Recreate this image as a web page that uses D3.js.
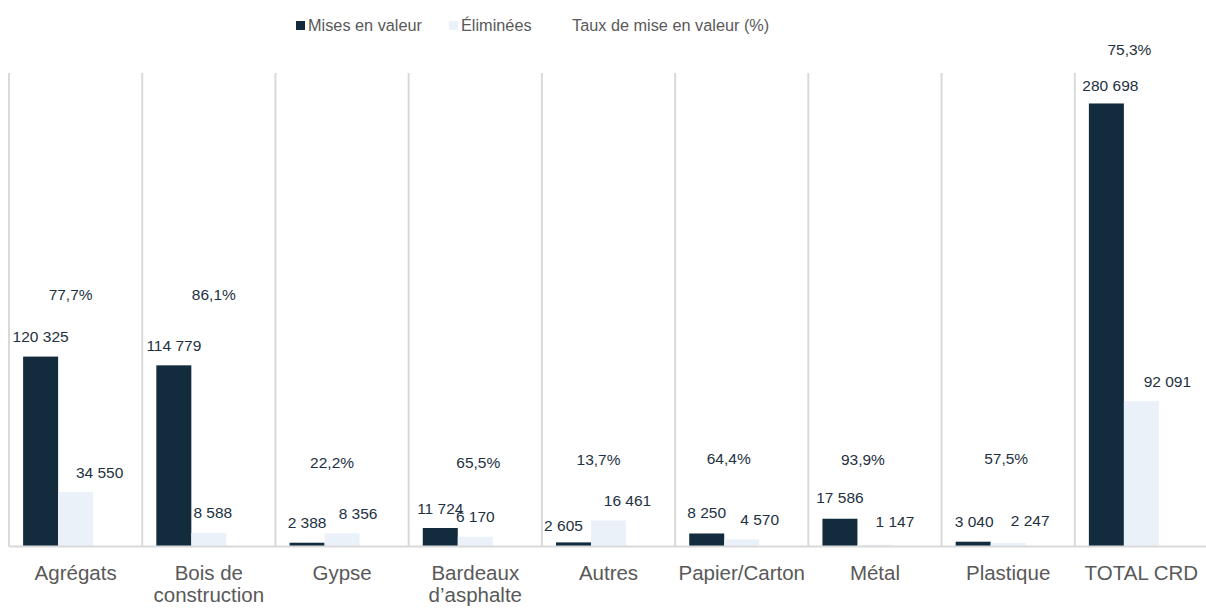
<!DOCTYPE html>
<html>
<head>
<meta charset="utf-8">
<script src="https://cdn.jsdelivr.net/npm/d3@7"></script>
<style>
  html, body { margin: 0; padding: 0; background: #fff; }
  svg { display: block; font-family: "Liberation Sans", Arial, sans-serif; }
</style>
</head>
<body>
<svg id="chart" width="1206" height="608"></svg>
<script>
// ---------- DATA ----------
const categories = ["Agrégats", "Bois de\nconstruction", "Gypse", "Bardeaux\nd\u2019asphalte", "Autres", "Papier/Carton", "Métal", "Plastique", "TOTAL CRD"];
const misesEnValeur = [120325, 114779, 2388, 11724, 2605, 8250, 17586, 3040, 280698];
const eliminees    = [34550, 8588, 8356, 6170, 16461, 4570, 1147, 2247, 92091];
const tauxMiseEnValeur = [77.7, 86.1, 22.2, 65.5, 13.7, 64.4, 93.9, 57.5, 75.3];
const seriesNames = ["Mises en valeur", "Éliminées", "Taux de mise en valeur (%)"];
const yMax = 300000;

// ---------- LAYOUT (label placement as in the original) ----------
const layout = {
  rateLevel: [160000, 160000, 53000, 53000, 55000, 55500, 55000, 55500, 315000],
  rateDx:    [-5, 5, -10, 3, -10, -13, -12, -2, -12],
  darkDx:    [0, 0, 0, 0, -10, 0, 0, 1, 4],
  darkDy:    [20, 20, 20, 20, 17, 21, 21, 20, 18],
  lightDx:   [24, 4, 16, 0, 19, 18, 20, 22, 26],
  lightDy:   [20, 21, 20, 20, 20, 20, 23, 23, 20]
};

const colors = { dark: "#122B3D", light: "#EAF1F8", grid: "#D9D9D9", label: "#1E3142", axis: "#595959" };
const fmt = v => d3.format(",")(v).replace(/,/g, " ");
const fmtPct = v => d3.format(".1f")(v).replace(".", ",") + "%";

const svg = d3.select("#chart");
const plot = { left: 9, right: 1208, top: 73, bottom: 546.5 };

const x = d3.scaleBand().domain(categories).range([plot.left, plot.right]).paddingInner(0).paddingOuter(0);
const bw = x.bandwidth();
const xs = d3.scaleBand().domain(["mv", "el", "tx"]).range([0, bw]).paddingInner(0).paddingOuter((bw / 35 - 3) / 2);
const y = d3.scaleLinear().domain([0, yMax]).range([plot.bottom, plot.top]);

// vertical separators
svg.append("g").selectAll("line")
  .data(categories)
  .join("line")
  .attr("x1", d => x(d)).attr("x2", d => x(d))
  .attr("y1", plot.top).attr("y2", plot.bottom)
  .attr("stroke", colors.grid).attr("stroke-width", 2);

const rows = categories.map((c, i) => ({ c, i, mv: misesEnValeur[i], el: eliminees[i], tx: tauxMiseEnValeur[i] }));

// bars
const g = svg.append("g");
g.selectAll("rect.mv").data(rows).join("rect").attr("class", "mv")
  .attr("x", d => x(d.c) + xs("mv")).attr("width", xs.bandwidth())
  .attr("y", d => y(d.mv)).attr("height", d => y(0) - y(d.mv))
  .attr("fill", colors.dark);
g.selectAll("rect.el").data(rows).join("rect").attr("class", "el")
  .attr("x", d => x(d.c) + xs("el")).attr("width", xs.bandwidth())
  .attr("y", d => y(d.el)).attr("height", d => y(0) - y(d.el))
  .attr("fill", colors.light);

// x axis
const axis = svg.append("g").attr("transform", `translate(0,${plot.bottom})`)
  .call(d3.axisBottom(x).tickSize(0).tickPadding(0));
axis.select(".domain").attr("stroke", colors.grid).attr("stroke-width", 2).attr("d", `M${plot.left},0H1206`);
axis.selectAll(".tick text").each(function (d) {
  const t = d3.select(this);
  t.text(null).attr("y", 0).attr("dy", null)
    .attr("fill", colors.axis).style("font-size", "20.5px")
    .attr("font-family", "Liberation Sans, Arial, sans-serif");
  d.split("\n").forEach((line, k) => {
    t.append("tspan").attr("x", 0).attr("y", 33.5 + k * 21.5).text(line);
  });
});

// value labels
const lab = svg.append("g").attr("fill", colors.label).style("font-size", "15.5px").attr("text-anchor", "middle");
lab.selectAll("text.mv").data(rows).join("text").attr("class", "mv")
  .attr("x", d => x(d.c) + xs("mv") + xs.bandwidth() / 2 + layout.darkDx[d.i])
  .attr("y", d => y(d.mv) - layout.darkDy[d.i]).attr("dy", "0.36em")
  .text(d => fmt(d.mv));
lab.selectAll("text.el").data(rows).join("text").attr("class", "el")
  .attr("x", d => x(d.c) + xs("el") + xs.bandwidth() / 2 + layout.lightDx[d.i])
  .attr("y", d => y(d.el) - layout.lightDy[d.i]).attr("dy", "0.36em")
  .text(d => fmt(d.el));
lab.selectAll("text.tx").data(rows).join("text").attr("class", "tx")
  .attr("x", d => x(d.c) + bw / 2 + layout.rateDx[d.i])
  .attr("y", d => y(layout.rateLevel[d.i])).attr("dy", "0.36em")
  .text(d => fmtPct(d.tx));

// legend
const legend = svg.append("g").style("font-size", "16.3px").attr("fill", colors.axis);
const legendItems = [
  { name: seriesNames[0], color: colors.dark, sx: 296, tx: 308 },
  { name: seriesNames[1], color: colors.light, sx: 449, tx: 461 },
  { name: seriesNames[2], color: "none", sx: 560, tx: 572 }
];
legendItems.forEach(it => {
  legend.append("rect").attr("x", it.sx).attr("y", 21).attr("width", 9).attr("height", 9).attr("fill", it.color);
  legend.append("text").attr("x", it.tx).attr("y", 31).text(it.name);
});
</script>
</body>
</html>
